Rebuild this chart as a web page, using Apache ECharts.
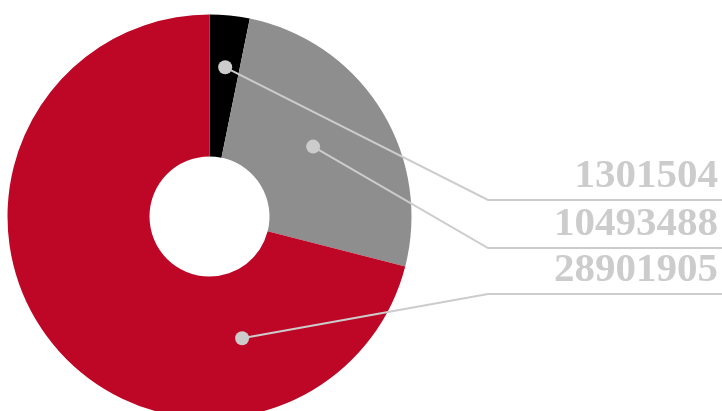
<!DOCTYPE html>
<html>
<head>
<meta charset="utf-8">
<style>
  html, body { margin: 0; padding: 0; background: #fff; }
  #chart { width: 722px; height: 411px; }
</style>
<script src="https://cdn.jsdelivr.net/npm/echarts@6/dist/echarts.min.js"></script>
</head>
<body>
<div id="chart"></div>
<script>
  "use strict";

  /* ---- Data ---- */
  const names = ["A", "B", "C"];
  const values = [1301504, 10493488, 28901905];
  const colors = ["#000000", "#8e8e8e", "#be0727"];

  /* ---- Layout (px) ---- */
  const CX = 209.5, CY = 216.5, R_IN = 60, R_OUT = 202;
  // where each leader line starts inside its slice: angle from 12 o'clock (deg, clockwise), radius
  const anchors = [[6, 150], [56, 125], [165, 126]];
  const lineY = [200, 248, 294];
  const ELBOW_X = 488, RIGHT_X = 722;

  function anchorPt(i) {
    const a = anchors[i][0] * Math.PI / 180, r = anchors[i][1];
    return [CX + r * Math.sin(a), CY - r * Math.cos(a)];
  }

  const chart = echarts.init(document.getElementById("chart"), null, { renderer: "canvas" });

  // leader lines + dots drawn on top of the slices
  const leaders = [];
  values.forEach((v, i) => {
    const p = anchorPt(i);
    leaders.push({
      type: "polyline", z: 100,
      shape: { points: [p, [ELBOW_X, lineY[i]], [RIGHT_X, lineY[i]]] },
      style: { stroke: "#cccccc", lineWidth: 2, fill: null }
    });
    leaders.push({
      type: "circle", z: 101,
      shape: { cx: p[0], cy: p[1], r: 7 },
      style: { fill: "#cccccc" }
    });
  });

  chart.setOption({
    backgroundColor: "#fff",
    animation: false,
    series: [{
      type: "pie",
      center: [CX, CY],
      radius: [R_IN, R_OUT],
      startAngle: 90,
      clockwise: true,
      avoidLabelOverlap: false,
      minShowLabelAngle: 0,
      data: values.map((v, i) => ({ name: names[i], value: v, itemStyle: { color: colors[i] } })),
      label: {
        show: true,
        formatter: "{c}",
        color: "#cccccc",
        fontFamily: "Liberation Serif",
        fontWeight: "bold",
        fontSize: 41
      },
      labelLine: { show: false },
      labelLayout: p => ({
        x: 718, y: lineY[p.dataIndex] - 3,
        align: "right", verticalAlign: "bottom",
        hideOverlap: false
      })
    }],
    graphic: leaders
  });
</script>
</body>
</html>
